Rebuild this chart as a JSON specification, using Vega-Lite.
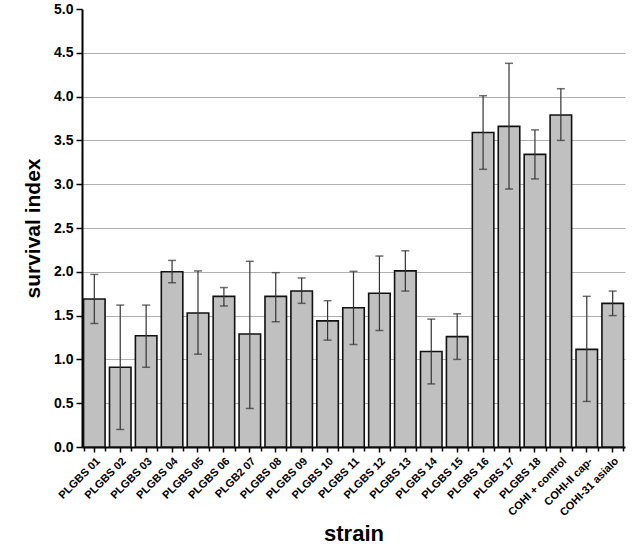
{
  "$schema": "https://vega.github.io/schema/vega-lite/v6.json",
  "width": 543,
  "height": 438,
  "autosize": {"type": "none"},
  "padding": {"left": 82, "top": 9, "right": 8, "bottom": 100},
  "background": "white",
  "config": {"view": {"stroke": null}, "font": "Liberation Sans"},
  "data": {"values": [
    {"strain": "PLGBS 01", "mean": 1.69, "lo": 1.41, "hi": 1.97},
    {"strain": "PLGBS 02", "mean": 0.91, "lo": 0.2, "hi": 1.62},
    {"strain": "PLGBS 03", "mean": 1.27, "lo": 0.91, "hi": 1.62},
    {"strain": "PLGBS 04", "mean": 2.0, "lo": 1.875, "hi": 2.13},
    {"strain": "PLGBS 05", "mean": 1.53, "lo": 1.06, "hi": 2.01},
    {"strain": "PLGBS 06", "mean": 1.72, "lo": 1.61, "hi": 1.82},
    {"strain": "PLGB2 07", "mean": 1.29, "lo": 0.44, "hi": 2.12},
    {"strain": "PLGBS 08", "mean": 1.72, "lo": 1.43, "hi": 1.99},
    {"strain": "PLGBS 09", "mean": 1.78, "lo": 1.64, "hi": 1.93},
    {"strain": "PLGBS 10", "mean": 1.44, "lo": 1.22, "hi": 1.67},
    {"strain": "PLGBS 11", "mean": 1.59, "lo": 1.17, "hi": 2.005},
    {"strain": "PLGBS 12", "mean": 1.755, "lo": 1.33, "hi": 2.18},
    {"strain": "PLGBS 13", "mean": 2.01, "lo": 1.78, "hi": 2.24},
    {"strain": "PLGBS 14", "mean": 1.09, "lo": 0.72, "hi": 1.46},
    {"strain": "PLGBS 15", "mean": 1.26, "lo": 1.0, "hi": 1.52},
    {"strain": "PLGBS 16", "mean": 3.59, "lo": 3.17, "hi": 4.01},
    {"strain": "PLGBS 17", "mean": 3.66, "lo": 2.945, "hi": 4.38},
    {"strain": "PLGBS 18", "mean": 3.34, "lo": 3.06, "hi": 3.62},
    {"strain": "COHI + control", "mean": 3.79, "lo": 3.5, "hi": 4.09},
    {"strain": "COHI-II cap-", "mean": 1.115, "lo": 0.52, "hi": 1.72},
    {"strain": "COHI-31 asialo", "mean": 1.64, "lo": 1.5, "hi": 1.78}
  ]},
  "resolve": {"axis": {"x": "independent"}},
  "layer": [
    {
      "encoding": {
        "x": {
          "field": "strain", "type": "nominal", "sort": null,
          "scale": {"paddingInner": 0.17, "paddingOuter": 0.06},
          "axis": {
            "orient": "bottom",
            "title": "strain", "titleFontSize": 22, "titleFontWeight": "bold", "titleColor": "black", "titlePadding": 6,
            "labelAngle": -45, "labelFontSize": 11, "labelFontWeight": "bold", "labelColor": "black", "labelPadding": 3,
            "tickColor": "black", "tickSize": 5, "tickWidth": 1.5,
            "domainColor": "black", "domainWidth": 2, "grid": false
          }
        }
      },
      "layer": [
        {
          "mark": {"type": "bar", "fill": "#c0c0c0", "stroke": "#111111", "strokeWidth": 1.6},
          "encoding": {
            "y": {
              "field": "mean", "type": "quantitative",
              "scale": {"domain": [0, 5], "nice": false},
              "axis": {
                "title": "survival index", "titleFontSize": 21, "titleFontWeight": "bold", "titleColor": "black", "titlePadding": 10,
                "values": [0, 0.25, 0.5, 0.75, 1, 1.25, 1.5, 1.75, 2, 2.25, 2.5, 2.75, 3, 3.25, 3.5, 3.75, 4, 4.25, 4.5, 4.75, 5],
                "labelExpr": "datum.value % 0.5 == 0 ? format(datum.value, '.1f') : ''",
                "labelFontSize": 14, "labelFontWeight": "bold", "labelColor": "black", "labelPadding": 3,
                "tickColor": "black", "tickWidth": 1.5,
                "tickSize": {"condition": {"test": "datum.value % 0.5 != 0", "value": 3}, "value": 6},
                "domainColor": "black", "domainWidth": 2,
                "grid": true, "gridColor": "#b0b0b0", "gridWidth": 1.2,
                "gridOpacity": {"condition": {"test": "datum.value % 0.5 != 0 || datum.value == 5 || datum.value == 0", "value": 0}, "value": 1}
              }
            }
          }
        },
        {
          "mark": {"type": "rule", "color": "#333333", "strokeWidth": 1.2},
          "encoding": {"y": {"field": "lo", "type": "quantitative"}, "y2": {"field": "hi"}}
        },
        {
          "mark": {"type": "tick", "color": "#333333", "size": 8, "thickness": 1.5},
          "encoding": {"y": {"field": "hi", "type": "quantitative"}}
        },
        {
          "mark": {"type": "tick", "color": "#333333", "size": 8, "thickness": 1.5},
          "encoding": {"y": {"field": "lo", "type": "quantitative"}}
        }
      ]
    },
    {
      "mark": {"type": "bar", "opacity": 0},
      "encoding": {
        "x": {
          "field": "strain", "type": "nominal", "sort": null,
          "axis": {
            "orient": "bottom", "tickBand": "extent", "labels": false, "domain": false, "title": null,
            "tickColor": "black", "tickSize": 4, "tickWidth": 1.5, "grid": false
          }
        },
        "y": {"field": "mean", "type": "quantitative"}
      }
    }
  ]
}
